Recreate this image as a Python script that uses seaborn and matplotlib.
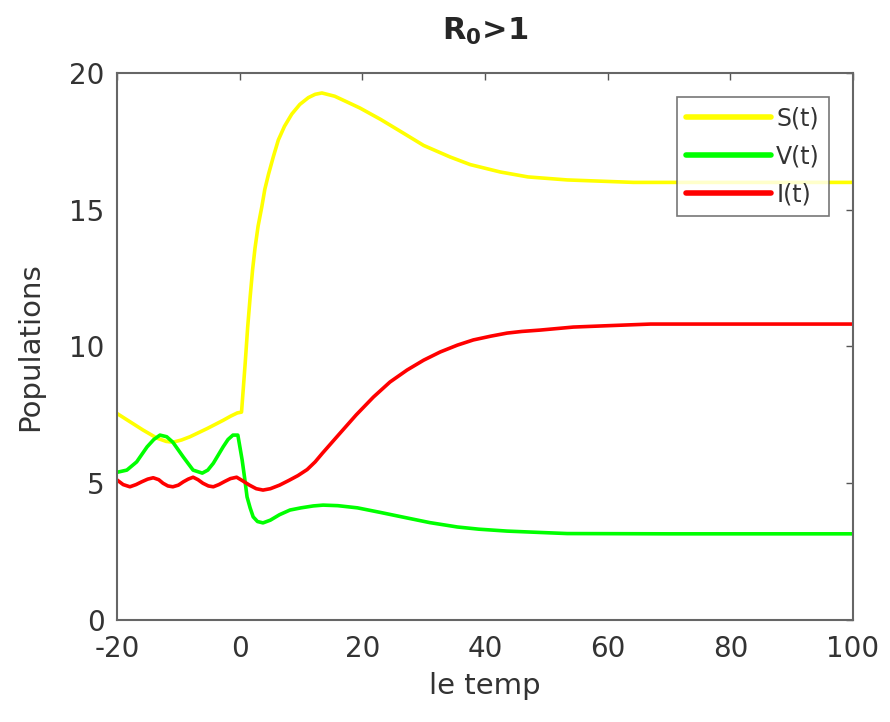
import matplotlib
matplotlib.use("Agg")
import matplotlib.pyplot as plt
import numpy as np
import pandas as pd
import seaborn as sns

# values
s_t = [-20, -17.9, -15.8, -13.5, -12, -10.9, -9.5, -8.1, -6.7, -5.3, -4, -2.7, -1.5, -0.4, 0.3,
       0.6, 0.9, 1.3, 1.7, 2.1, 2.5, 3.0, 3.6, 4.1, 4.7, 5.5, 6.3, 7.3, 8.5, 9.8, 11.2, 12.3, 13.4,
       15.5, 17.7, 19.6, 23, 26.7, 30, 34.3, 37.6, 42.5, 47, 53.4, 64.2, 80, 100]
s_y = [7.55, 7.25, 6.95, 6.65, 6.53, 6.5, 6.58, 6.7, 6.85, 7.0, 7.15, 7.3, 7.45, 7.57, 7.6,
       8.5, 9.4, 10.7, 11.8, 12.8, 13.6, 14.4, 15.1, 15.75, 16.3, 16.95, 17.55, 18.05, 18.5, 18.85, 19.1, 19.22, 19.27,
       19.15, 18.92, 18.72, 18.3, 17.8, 17.35, 16.93, 16.65, 16.38, 16.2, 16.09, 16.0, 16.0, 16.0]

v_t = [-20, -18.4, -16.8, -15.1, -14, -13, -11.9, -10.9, -9.2, -7.6, -6.1, -5.2, -4.3, -2.7, -1.9, -1.1,
       -0.3, 0.4, 0.8, 1.2, 1.7, 2.2, 2.9, 3.8, 5, 6.5, 8.2, 10, 12, 13.6, 16, 19.2, 23, 27.3, 31, 35.5,
       39, 43.6, 49, 53.4, 70, 100]
v_y = [5.4, 5.48, 5.78, 6.33, 6.6, 6.76, 6.7, 6.5, 5.96, 5.48, 5.37, 5.48, 5.73, 6.33, 6.6, 6.76,
       6.76, 5.85, 5.2, 4.5, 4.1, 3.77, 3.6, 3.55, 3.65, 3.85, 4.02, 4.1, 4.17, 4.2, 4.18, 4.1, 3.93, 3.73, 3.56, 3.4,
       3.32, 3.25, 3.2, 3.16, 3.15, 3.15]

i_t = [-20, -19, -17.9, -16.9, -16, -15, -14.1, -13.2, -12.5, -11.7, -10.9, -10, -9.2, -8.4, -7.6,
       -6.8, -6, -5.1, -4.3, -3.4, -2.4, -1.5, -0.5, 0.4, 1.6, 2.7, 3.8, 5, 6.5, 8, 9.5, 11, 12.3, 13.5, 16.4,
       19, 21.8, 24.5, 27.3, 30, 32.7, 35.5, 38.1, 41, 43.6, 46, 49, 54.4, 60, 67, 80, 100]
i_y = [5.12, 4.95, 4.87, 4.95, 5.05, 5.15, 5.2, 5.13, 5.0, 4.9, 4.87, 4.93, 5.05, 5.15, 5.22,
       5.13, 5.0, 4.9, 4.87, 4.95, 5.07, 5.17, 5.22, 5.1, 4.93, 4.8, 4.75, 4.8, 4.93, 5.1, 5.28, 5.5, 5.78, 6.1, 6.84,
       7.5, 8.15, 8.7, 9.14, 9.5, 9.8, 10.05, 10.24, 10.38, 10.49, 10.55, 10.6, 10.71, 10.76, 10.82, 10.82, 10.82]

series = [("S(t)", s_t, s_y, "#FFFF00"),
          ("V(t)", v_t, v_y, "#00FF00"),
          ("I(t)", i_t, i_y, "#FF0000")]

sns.set_style("white")
plt.rcParams['font.family'] = ['DejaVu Sans']
plt.rcParams['axes.unicode_minus'] = False

fig = plt.figure(figsize=(8.9, 7.22), dpi=100)
ax = fig.add_axes([0.1315, 0.1413, 0.8269, 0.7576])

for name, t, y, col in series:
    df = pd.DataFrame({'t': t, 'y': y})
    sns.lineplot(data=df, x='t', y='y', color=col, linewidth=2.6, label=name, ax=ax, sort=False)

ax.set_xlim(-20, 100)
ax.set_ylim(0, 20)
ax.set_xticks([-20, 0, 20, 40, 60, 80, 100])
ax.set_yticks([0, 5, 10, 15, 20])
ax.tick_params(direction='in', length=5, width=1, colors='#555555', labelcolor='#333333',
               labelsize=20, top=True, right=True)
ax.tick_params(axis='x', pad=11)
ax.tick_params(axis='y', pad=9)
for sp in ax.spines.values():
    sp.set_color('#666666')
    sp.set_linewidth(1.5)

ax.set_xlabel('le temp', fontsize=21, color='#333333', labelpad=6)
ax.set_ylabel('Populations', fontsize=21, color='#333333', labelpad=18)
ax.set_title(r'R$_\mathregular{0}$>1', fontsize=22, fontweight='bold', pad=24)

leg = ax.legend(loc='upper right', fontsize=17, handlelength=3.6, borderaxespad=1.0,
                frameon=True, fancybox=False, labelspacing=0.6, borderpad=0.4, handletextpad=0.2)
leg.get_frame().set_edgecolor('#555555')
leg.get_frame().set_linewidth(1.2)
for line in leg.get_lines():
    line.set_linewidth(4)
for txt in leg.get_texts():
    txt.set_color('#333333')

fig.savefig('out.png', dpi=100)
